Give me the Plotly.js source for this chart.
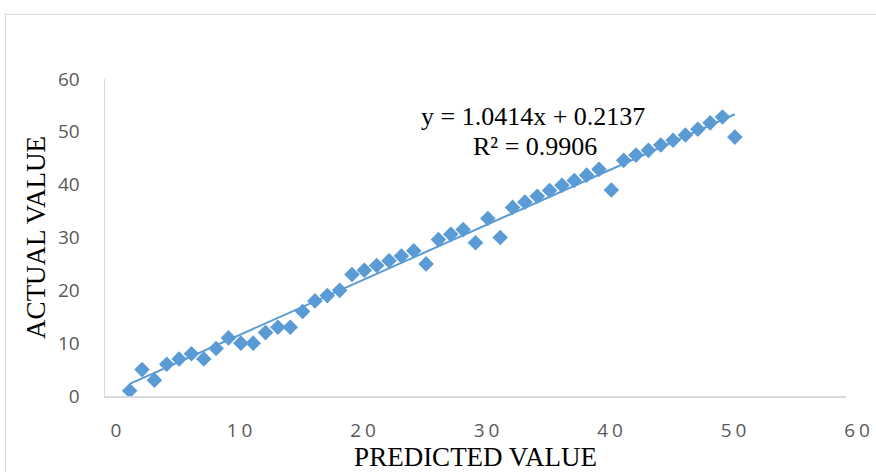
<!DOCTYPE html>
<html>
<head>
<meta charset="utf-8">
<script src="https://cdn.plot.ly/plotly-3.0.1.min.js"></script>
<style>
  html, body { margin: 0; padding: 0; width: 876px; height: 472px; overflow: hidden; background: #fff; }
  #frame { position: absolute; left: 5px; top: 14px; width: 920px; height: 520px; border: 1.5px solid #d9d9d9; box-sizing: border-box; }
  #chart { position: absolute; left: 0; top: 0; width: 876px; height: 472px; }
  .xtick text { letter-spacing: 4px; }
</style>
</head>
<body>
<div id="frame"></div>
<div id="chart"></div>
<script>
// Predicted values (x) and actual values (y)
const predicted = [2, 3, 4, 5, 6, 7, 8, 9, 10, 11, 12, 13, 14, 15, 16, 17, 18, 19, 20, 21,
                   22, 23, 24, 25, 26, 27, 28, 29, 30, 31, 32, 33, 34, 35, 36, 37, 38, 39, 40, 41,
                   42, 43, 44, 45, 46, 47, 48, 49, 50, 51];
const actual = [1, 5, 3, 6, 7, 8, 7, 9, 11, 10, 10, 12, 13, 13, 16, 18, 19, 20, 23, 23.8,
                24.7, 25.6, 26.5, 27.5, 25, 29.6, 30.6, 31.5, 29, 33.6, 30, 35.7, 36.7, 37.8, 38.9, 39.9, 40.8, 41.8, 42.9, 39,
                44.6, 45.6, 46.5, 47.5, 48.4, 49.4, 50.5, 51.7, 52.8, 49];
// Linear trendline as reported on the chart
const slope = 1.0414;
const intercept = 0.2137;
const trendX = [2, 51];
const trendY = trendX.map(v => slope * v + intercept);
const eqText = "y = 1.0414x + 0.2137";
const r2Text = "R² = 0.9906";
const tickVals = [0, 10, 20, 30, 40, 50, 60];
const tickText = ["0", "10", "20", "30", "40", "50", "60"];

const blue = "#5B9BD5";
const traces = [
  { x: trendX, y: trendY, type: "scatter", mode: "lines",
    line: { color: blue, width: 2 }, hoverinfo: "skip", showlegend: false },
  { x: predicted, y: actual, type: "scatter", mode: "markers",
    marker: { symbol: "diamond", size: 12, color: blue }, showlegend: false }
];

const tickFont = { family: "Open Sans, sans-serif", size: 19, color: "#595959" };
const titleFont = { family: "Liberation Serif, Times New Roman, serif", size: 27, color: "#000" };

const layout = {
  width: 876, height: 472,
  margin: { l: 105, r: 30, t: 79, b: 76 },
  paper_bgcolor: "rgba(0,0,0,0)",
  plot_bgcolor: "rgba(0,0,0,0)",
  showlegend: false,
  xaxis: {
    range: [0, 60], tickmode: "array", tickvals: tickVals, ticktext: tickText,
    showgrid: false, zeroline: false, showline: true, linecolor: "#d9d9d9", linewidth: 1.5,
    ticks: "", ticklabelstandoff: 17, ticklabelshift: 13,
    tickfont: tickFont,
    title: { text: "PREDICTED VALUE", font: titleFont, standoff: 11 },
    automargin: false, fixedrange: true
  },
  yaxis: {
    range: [0, 60], tickmode: "array", tickvals: tickVals, ticktext: tickText,
    showgrid: false, zeroline: false, showline: true, linecolor: "#d9d9d9", linewidth: 1.5,
    ticks: "", ticklabelstandoff: 20,
    tickfont: tickFont,
    title: { text: "ACTUAL VALUE", font: titleFont, standoff: 4 },
    automargin: false, fixedrange: true
  },
  annotations: [
    { x: 34.68, y: 52.85, xref: "x", yref: "y", text: eqText, showarrow: false,
      font: { family: "Liberation Serif, Times New Roman, serif", size: 26, color: "#000" } },
    { x: 34.85, y: 47.17, xref: "x", yref: "y", text: r2Text, showarrow: false,
      font: { family: "Liberation Serif, Times New Roman, serif", size: 26, color: "#000" } }
  ]
};

Plotly.newPlot("chart", traces, layout, { displayModeBar: false, staticPlot: true });
</script>
</body>
</html>
